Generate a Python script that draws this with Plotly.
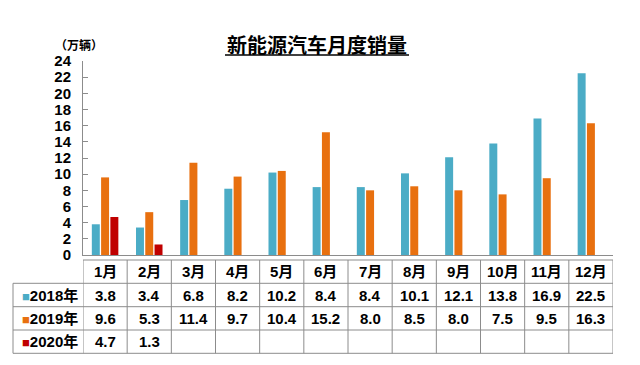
import plotly.graph_objects as go

months = ["1月", "2月", "3月", "4月", "5月", "6月", "7月", "8月", "9月", "10月", "11月", "12月"]
series_names = ["2018年", "2019年", "2020年"]
sales_2018 = [3.8, 3.4, 6.8, 8.2, 10.2, 8.4, 8.4, 10.1, 12.1, 13.8, 16.9, 22.5]
sales_2019 = [9.6, 5.3, 11.4, 9.7, 10.4, 15.2, 8.0, 8.5, 8.0, 7.5, 9.5, 16.3]
sales_2020 = [4.7, 1.3, None, None, None, None, None, None, None, None, None, None]
colors = ["#4BACC6", "#E8700F", "#C00000"]
y_ticks = list(range(0, 25, 2))

# page body has an 8px margin; work in reference pixels and shift
OFF = 8
W, H = 640, 365
PL, PR, PT, PB = 83, 613, 61, 255   # plot area in reference pixels
L, T = PL - OFF, PT - OFF
R = W - (PR - OFF)
B = H - (PB - OFF)
PW, PH = PR - PL, PB - PT

def px_x(px):
    return (px - PL) / PW

def px_y(py):
    return (PB - py) / PH

FONT = "Liberation Sans, Arial, Noto Sans CJK SC, sans-serif"
GRID = "#8C8C8C"

fig = go.Figure()
all_series = [sales_2018, sales_2019, sales_2020]
for name, vals, col in zip(series_names, all_series, colors):
    fig.add_trace(go.Bar(x=months, y=vals, name=name, marker_color=col,
                         marker_line_width=0, showlegend=False))

fig.update_layout(
    width=W, height=H,
    margin=dict(l=L, r=R, t=T, b=B, pad=0),
    paper_bgcolor="white", plot_bgcolor="white",
    barmode="group", bargap=0.37, bargroupgap=0.14,
    font=dict(family=FONT, color="black"),
    xaxis=dict(type="category", showticklabels=False, showline=True, linecolor=GRID,
               linewidth=1, ticks="", showgrid=False, range=[-0.5, 11.5], zeroline=False),
    yaxis=dict(range=[0, 24], tickvals=y_ticks, showline=True, linecolor=GRID, linewidth=1,
               ticks="inside", ticklen=5, tickcolor=GRID, showgrid=False, zeroline=False,
               tickfont=dict(size=15, family=FONT, color="black", weight="bold"),
               ticklabelstandoff=8),
)

annotations = []
shapes = []

# title
annotations.append(dict(text="<b>新能源汽车月度销量</b>", x=px_x(317), y=px_y(44),
                        xref="paper", yref="paper", showarrow=False,
                        font=dict(size=20, family="Noto Sans CJK SC", color="black"),
                        xanchor="center", yanchor="middle"))
shapes.append(dict(type="line", xref="paper", yref="paper", x0=px_x(225), x1=px_x(409),
                   y0=px_y(55), y1=px_y(55), line=dict(color="black", width=1.5)))
# unit
annotations.append(dict(text="<b>（万辆）</b>", x=px_x(79), y=px_y(44.5),
                        xref="paper", yref="paper", showarrow=False,
                        font=dict(size=12, family="Noto Sans CJK SC", color="black"),
                        xanchor="center", yanchor="middle"))

# table geometry (reference pixels)
row_lines = [260, 283.3, 306.7, 330, 353.3]
row_centers = [(row_lines[i] + row_lines[i + 1]) / 2 for i in range(4)]
left_px = 13

shapes.append(dict(type="line", xref="x", yref="paper", x0=-0.5, x1=11.5,
                   y0=px_y(row_lines[0]), y1=px_y(row_lines[0]), line=dict(color=GRID, width=1)))
for py in row_lines[1:]:
    shapes.append(dict(type="line", xref="paper", yref="paper", x0=px_x(left_px), x1=1,
                       y0=px_y(py), y1=px_y(py), line=dict(color=GRID, width=1)))
for i in range(len(months) + 1):
    shapes.append(dict(type="line", xref="x", yref="paper", x0=i - 0.5, x1=i - 0.5,
                       y0=px_y(row_lines[0]), y1=px_y(row_lines[-1]), line=dict(color=GRID, width=1)))
shapes.append(dict(type="line", xref="paper", yref="paper", x0=px_x(left_px), x1=px_x(left_px),
                   y0=px_y(row_lines[1]), y1=px_y(row_lines[-1]), line=dict(color=GRID, width=1)))

cell_font = dict(size=15, family=FONT, color="black")
for m in months:
    annotations.append(dict(text=f"<b>{m}</b>", x=m, y=px_y(row_centers[0]), xref="x", yref="paper",
                            showarrow=False, font=cell_font, xanchor="center", yanchor="middle"))
for r, (name, vals, col) in enumerate(zip(series_names, all_series, colors)):
    yc = px_y(row_centers[r + 1])
    annotations.append(dict(text=f"<span style='color:{col};font-size:13px'>■</span><b>{name}</b>",
                            x=px_x(50), y=yc, xref="paper", yref="paper", showarrow=False,
                            font=cell_font, xanchor="center", yanchor="middle"))
    for m, v in zip(months, vals):
        if v is None:
            continue
        annotations.append(dict(text=f"<b>{v:.1f}</b>", x=m, y=yc, xref="x", yref="paper",
                                showarrow=False, font=cell_font, xanchor="center", yanchor="middle"))

fig.update_layout(annotations=annotations, shapes=shapes)
fig.write_html("out.html")
